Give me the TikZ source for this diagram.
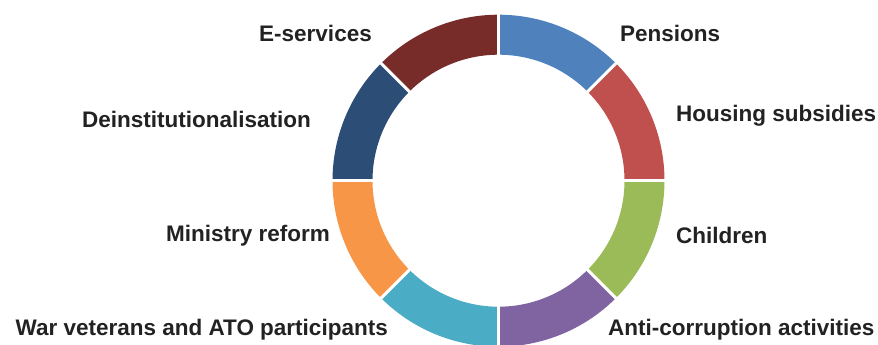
\documentclass[tikz,border=0pt]{standalone}
\usepackage{fontspec}
\setmainfont{Liberation Sans}
\definecolor{cPens}{HTML}{4F81BD}
\definecolor{cHous}{HTML}{C0504D}
\definecolor{cChil}{HTML}{9BBB59}
\definecolor{cAnti}{HTML}{8064A2}
\definecolor{cWar}{HTML}{4BACC6}
\definecolor{cMin}{HTML}{F79646}
\definecolor{cDein}{HTML}{2C4D75}
\definecolor{cEser}{HTML}{772C2A}
\definecolor{txt}{HTML}{222222}
\begin{document}
\begin{tikzpicture}[x=1pt,y=-1pt,
  lbl/.style={font=\fontsize{22.5}{26}\selectfont\bfseries, text=txt, inner sep=0pt},
  lL/.style={lbl, anchor=east},
  lR/.style={lbl, anchor=west},
  gap/.style={draw=white, line width=3pt}]
\useasboundingbox (0,0) rectangle (878,345);
\coordinate (c) at (498.5,180.7);
\def\ro{166}
\def\ri{126}
% angles are mathematical angles in the flipped-y frame (clockwise on screen)
\foreach \a/\col in {-90/cPens,-45/cHous,0/cChil,45/cAnti,90/cWar,135/cMin,180/cDein,225/cEser}{
  \fill[\col] ([shift={(\a:\ro)}]c) arc[start angle=\a, end angle=\a+45, radius=\ro]
     -- ([shift={(\a+45:\ri)}]c) arc[start angle=\a+45, end angle=\a, radius=\ri] -- cycle;
}
\foreach \a in {0,45,...,315}{
  \draw[gap] ([shift={(\a:\ri-2)}]c) -- ([shift={(\a:\ro+2)}]c);
}
\node[lR] (pens) at (620,33) {Pensions};
\node[lR] (hous) at (676,116) {Housing subsidies};
\node[lR] (chil) at (676,235) {Children};
\node[lR] (anti) at (608,330) {Anti-corruption activities};
\node[lL] (eser) at (372,33) {E-services};
\node[lL] (dein) at (311,119) {Deinstitutionalisation};
\node[lL] (mini) at (330,236) {Ministry reform};
\node[lL] (war) at (388,330) {War veterans and ATO participants};
\end{tikzpicture}
\end{document}
